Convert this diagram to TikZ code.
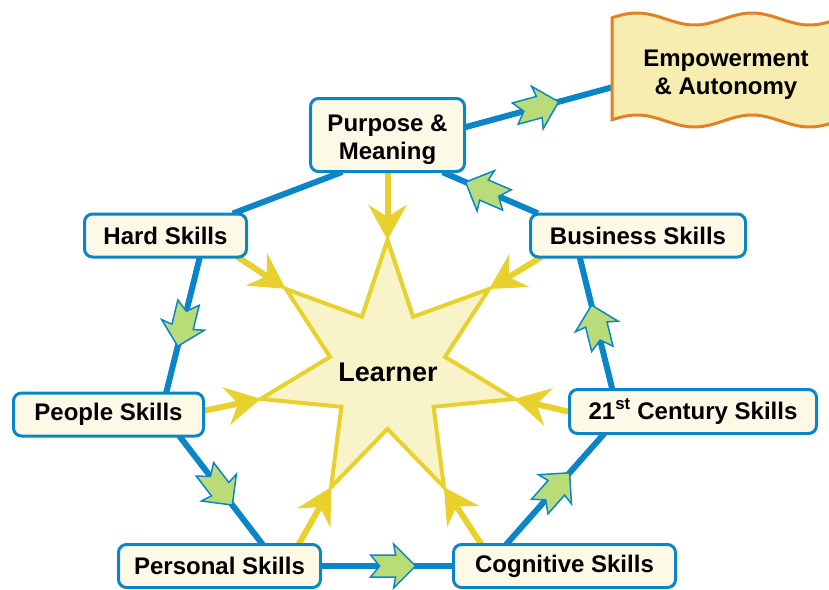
\documentclass[tikz,border=0pt]{standalone}
\usepackage{fontspec}
\setmainfont{Liberation Sans}
\usetikzlibrary{arrows.meta,decorations.markings,calc}
\definecolor{lineblue}{HTML}{0A86C8}
\definecolor{boxfill}{HTML}{FCF9E6}
\definecolor{starfill}{HTML}{F8F3C8}
\definecolor{stargold}{HTML}{E8D12C}
\definecolor{leafgreen}{HTML}{B9DC78}
\definecolor{bannerfill}{HTML}{F7EDB0}
\definecolor{bannerline}{HTML}{E08224}
\pgfdeclarelayer{bg}
\pgfsetlayers{bg,main}
\tikzset{
  skill/.style={draw=lineblue, fill=boxfill, line width=3pt, rounded corners=8pt,
    font=\fontsize{24}{28}\selectfont\bfseries, inner sep=0pt, align=center},
  link/.style={draw=lineblue, line width=6pt},
  greenhead/.style={line width=1.5pt, draw=lineblue, fill=leafgreen, line join=miter},
  flow/.style={link, shorten <=-2pt, shorten >=-2pt, postaction={decorate},
    decoration={markings, mark=at position #1 with {
      \draw[greenhead] (0pt,0pt) -- (-22pt,22pt) -- (-20pt,11pt) -- (-45pt,11pt) -- (-36pt,0pt)
        -- (-45pt,-11pt) -- (-20pt,-11pt) -- (-22pt,-22pt) -- cycle;}}},
  feed/.style={draw=stargold, line width=6pt, shorten <=-3pt,
    -{Stealth[length=35pt,width=38pt,inset=12pt]}},
  starshape/.style={draw=stargold, fill=starfill, line width=4pt, line join=miter},
  banner/.style={draw=bannerline, fill=bannerfill, line width=3pt}
}
\begin{document}
\begin{tikzpicture}[x=1pt,y=-1pt]
\useasboundingbox (0,0) rectangle (829,589);
\clip (0,0) rectangle (829,589);

% nodes
\node[skill, minimum width=154pt, minimum height=73pt] (purpose) at (387.5,135) {\rule{0pt}{26pt}Purpose \&\\Meaning};
\node[skill, minimum width=162pt, minimum height=43pt] (hard) at (165.5,235.5) {Hard Skills};
\node[skill, minimum width=215pt, minimum height=43pt] (business) at (638,235.5) {Business Skills};
\node[skill, minimum width=190pt, minimum height=43pt] (people) at (108.5,414.5) {People Skills};
\node[skill, minimum width=247pt, minimum height=44pt] (cent) at (693,411.5) {21\textsuperscript{st} Century Skills};
\node[skill, minimum width=202pt, minimum height=43pt] (personal) at (219.5,566) {Personal Skills};
\node[skill, minimum width=222pt, minimum height=43pt] (cognitive) at (564.5,566) {Cognitive Skills};

% banner
\draw[banner] plot[domain=612:840, samples=80] (\x,{19-6*cos(3.1304*(\x-637))})
  -- plot[domain=840:612, samples=80] (\x,{121-6*cos(3.1304*(\x-637))}) -- cycle;
\node[font=\fontsize{24}{28}\selectfont\bfseries, align=center] (empower) at (726,75) {Empowerment\\\& Autonomy};
\coordinate (embL) at (613,87);

% star points
\foreach \k in {0,...,6}{
  \coordinate (s\k) at ({387.5+130*sin(\k*360/7)},{370-130*cos(\k*360/7)});
  \coordinate (i\k) at ({387.5+59*sin((\k+0.5)*360/7)},{370-59*cos((\k+0.5)*360/7)});
}
\node[font=\fontsize{27}{30}\selectfont\bfseries] (learner) at (388,372) {Learner};

\begin{pgfonlayer}{bg}
  % star
  \draw[starshape] (s0)--(i0)--(s1)--(i1)--(s2)--(i2)--(s3)--(i3)--(s4)--(i4)--(s5)--(i5)--(s6)--(i6)--cycle;
  % blue cycle
  \draw[link, shorten <=-3pt, shorten >=-3pt] ([xshift=70pt]hard.north) -- ([xshift=-48pt]purpose.south);
  \draw[flow=0.66] ([xshift=34pt]hard.south) -- ([xshift=58pt]people.north);
  \draw[flow=0.64] ([xshift=72pt]people.south) -- ([xshift=42pt]personal.north);
  \draw[flow=0.72] (personal.east) -- (cognitive.west);
  \draw[flow=0.65] ([xshift=-57pt]cognitive.north) -- ([xshift=-90pt]cent.south);
  \draw[flow=0.64] ([xshift=-81pt]cent.north) -- ([xshift=-58pt]business.south);
  \draw[flow=0.77] ([xshift=-102pt]business.north) -- ([xshift=57pt]purpose.south);
  \draw[flow=0.63] ([yshift=8pt]purpose.east) -- (embL);
  % yellow feeds into the learner
  \draw[feed] (purpose.south) -- (s0);
  \draw[feed] ([xshift=-8pt]hard.south east) -- (s6);
  \draw[feed] ([xshift=10pt]business.south west) -- (s1);
  \draw[feed] ([yshift=4pt]people.east) -- (s5);
  \draw[feed] (cent.west) -- (s2);
  \draw[feed] ([xshift=80pt]personal.north) -- (s4);
  \draw[feed] ([xshift=-84pt]cognitive.north) -- (s3);
\end{pgfonlayer}
\end{tikzpicture}
\end{document}
